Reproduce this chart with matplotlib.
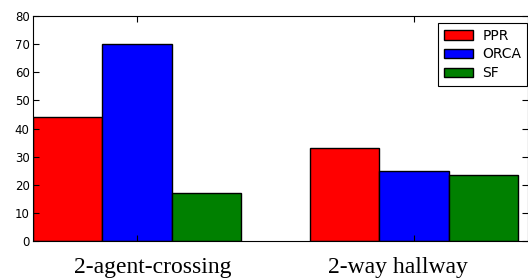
import matplotlib
matplotlib.use('Agg')
import matplotlib.pyplot as plt
import matplotlib.transforms as mtransforms
import numpy as np

# scenarios and values
scenarios = ['2-agent-crossing', '2-way hallway']
ppr = [44, 33]
orca = [70, 25]
sf = [17, 23.5]

ind = np.arange(len(scenarios))
width = 0.25

fig = plt.figure(figsize=(5.28, 2.79), dpi=100)
ax = fig.add_axes([0.0625, 0.136, 0.9375, 0.8067])

ax.bar(ind, ppr, width, align='edge', color='red', edgecolor='black', linewidth=1, label='PPR')
ax.bar(ind + width, orca, width, align='edge', color='blue', edgecolor='black', linewidth=1, label='ORCA')
ax.bar(ind + 2 * width, sf, width, align='edge', color='green', edgecolor='black', linewidth=1, label='SF')

ax.set_xlim(0, 1.786)
ax.set_ylim(0, 80)
ax.set_yticks(range(0, 81, 10))
ax.set_xticks(ind + 1.5 * width)
ax.set_xticklabels(scenarios, family='Liberation Serif', fontsize=17)
ax.tick_params(axis='y', labelsize=8.5, direction='in', right=True, length=4, pad=2.5)
ax.tick_params(axis='x', direction='in', top=True, length=4, pad=11.5)

# labels in the original sit a bit off their ticks
for lab, dx in zip(ax.get_xticklabels(), [11.5, -11.5]):
    lab.set_transform(lab.get_transform() +
                      mtransforms.ScaledTranslation(dx / 72, 0, fig.dpi_scale_trans))

leg = ax.legend(loc='upper right', bbox_to_anchor=(0.998, 0.969), borderaxespad=0,
                fontsize=10, fancybox=False, framealpha=1, edgecolor='black',
                handlelength=2.1, handletextpad=0.7, labelspacing=0.35)
leg.get_frame().set_linewidth(0.8)

fig.set_facecolor('white')
fig.savefig('out.png', dpi=100)
